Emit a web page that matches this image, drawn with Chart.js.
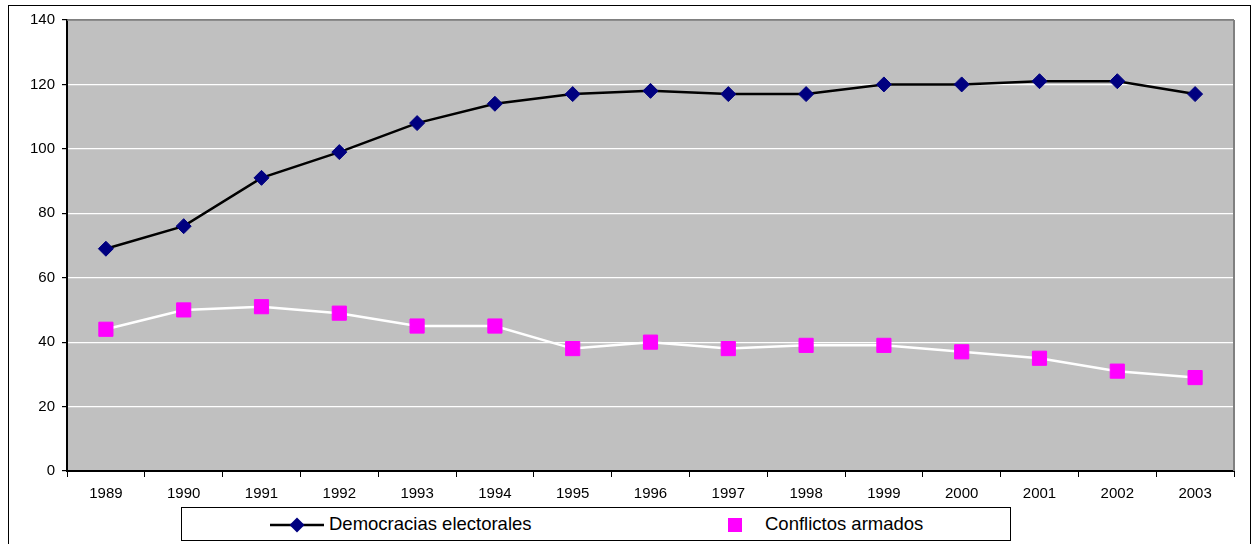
<!DOCTYPE html>
<html>
<head>
<meta charset="utf-8">
<script src="https://cdn.jsdelivr.net/npm/chart.js@4.4.1/dist/chart.umd.min.js"></script>
<style>
  html, body { margin: 0; padding: 0; background: #fff; }
  body { width: 1254px; height: 544px; overflow: hidden; position: relative; font-family: "Liberation Sans", Arial, sans-serif; }
  #frame { position: absolute; left: 8px; top: 5px; width: 1243px; height: 600px; border: 1px solid #000; box-sizing: border-box; }
  #c { position: absolute; left: 0; top: 0; }
  #legend { position: absolute; left: 181px; top: 507px; width: 830px; height: 34px; border: 1px solid #000; box-sizing: border-box; background: #fff; }
  .lg-item { position: absolute; top: 0; height: 32px; line-height: 32px; font-size: 18.5px; color: #000; white-space: nowrap; }
  .lg-icon { position: absolute; }
</style>
</head>
<body>
<div id="frame"></div>
<canvas id="c" width="1254" height="544"></canvas>
<div id="legend"></div>
<script>
const years = ['1989','1990','1991','1992','1993','1994','1995','1996','1997','1998','1999','2000','2001','2002','2003'];
const democracias = [69, 76, 91, 99, 108, 114, 117, 118, 117, 117, 120, 120, 121, 121, 117];
const conflictos  = [44, 50, 51, 49, 45, 45, 38, 40, 38, 39, 39, 37, 35, 31, 29];
const seriesNames = ['Democracias electorales', 'Conflictos armados'];
const yMin = 0, yMax = 140, yStep = 20;

Chart.defaults.font.family = "'Liberation Sans', Arial, sans-serif";
Chart.defaults.color = '#000';

const plotBg = {
  id: 'plotBg',
  beforeDraw(chart) {
    const a = chart.chartArea, ctx = chart.ctx;
    ctx.save();
    ctx.fillStyle = '#C0C0C0';
    ctx.fillRect(a.left, a.top, a.right - a.left, a.bottom - a.top);
    ctx.restore();
  },
  beforeDatasetsDraw(chart) {
    const a = chart.chartArea, ctx = chart.ctx;
    ctx.save();
    ctx.strokeStyle = '#808080';
    ctx.lineWidth = 2;
    ctx.beginPath();
    ctx.moveTo(a.right, a.top);
    ctx.lineTo(a.right, a.bottom);
    ctx.stroke();
    ctx.lineWidth = 1.5;
    ctx.beginPath();
    ctx.moveTo(a.left, a.top);
    ctx.lineTo(a.right, a.top);
    ctx.stroke();
    ctx.restore();
  }
};

new Chart(document.getElementById('c'), {
  type: 'line',
  data: {
    labels: years,
    datasets: [
      {
        label: seriesNames[0],
        data: democracias,
        borderColor: '#000',
        borderWidth: 2.5,
        pointStyle: 'rectRot',
        pointRadius: 7.5,
        pointBackgroundColor: '#000080',
        pointBorderColor: '#000080',
        pointBorderWidth: 1,
        tension: 0
      },
      {
        label: seriesNames[1],
        data: conflictos,
        borderColor: '#fff',
        borderWidth: 2.5,
        pointStyle: 'rect',
        pointRadius: 10,
        pointBackgroundColor: '#FF00FF',
        pointBorderColor: '#FF00FF',
        pointBorderWidth: 1,
        tension: 0
      }
    ]
  },
  options: {
    responsive: false,
    devicePixelRatio: 1,
    animation: false,
    layout: { padding: { left: 0, right: 20, top: 20, bottom: 0 } },
    plugins: { legend: { display: false }, tooltip: { enabled: false } },
    scales: {
      x: {
        type: 'category',
        offset: true,
        afterFit(s) { s.height = 73; },
        grid: { offset: true, drawOnChartArea: false, color: '#000', tickColor: '#000', tickLength: 6, lineWidth: 1 },
        border: { color: '#000', width: 2 },
        ticks: { font: { size: 15 }, color: '#000', padding: 8, maxRotation: 0, autoSkip: false }
      },
      y: {
        min: yMin, max: yMax,
        afterFit(s) { s.width = 67; },
        grid: {
          color: (ctx) => ctx.tick && ctx.tick.value === yMax ? '#808080' : (ctx.tick && ctx.tick.value === yMin ? '#000' : '#fff'),
          lineWidth: 1.2,
          tickColor: '#000',
          tickLength: 5
        },
        border: { color: '#000', width: 2 },
        ticks: { stepSize: yStep, font: { size: 15 }, color: '#000', padding: 7 }
      }
    }
  },
  plugins: [plotBg]
});

// HTML legend
const legend = document.getElementById('legend');
function addItem(iconSvg, iconLeft, iconWidth, text, textLeft) {
  const ic = document.createElement('div');
  ic.className = 'lg-icon';
  ic.style.left = iconLeft + 'px';
  ic.style.top = '9px';
  ic.innerHTML = iconSvg;
  legend.appendChild(ic);
  const t = document.createElement('div');
  t.className = 'lg-item';
  t.style.left = textLeft + 'px';
  t.textContent = text;
  legend.appendChild(t);
}
addItem('<svg width="54" height="16"><line x1="0" y1="8" x2="54" y2="8" stroke="#000" stroke-width="2.5"/><polygon points="27,0.5 34.5,8 27,15.5 19.5,8" fill="#000080"/></svg>', 88, 54, seriesNames[0], 147);
addItem('<svg width="16" height="16"><rect x="1" y="1" width="14" height="14" fill="#FF00FF"/></svg>', 545, 16, seriesNames[1], 583);
</script>
</body>
</html>
